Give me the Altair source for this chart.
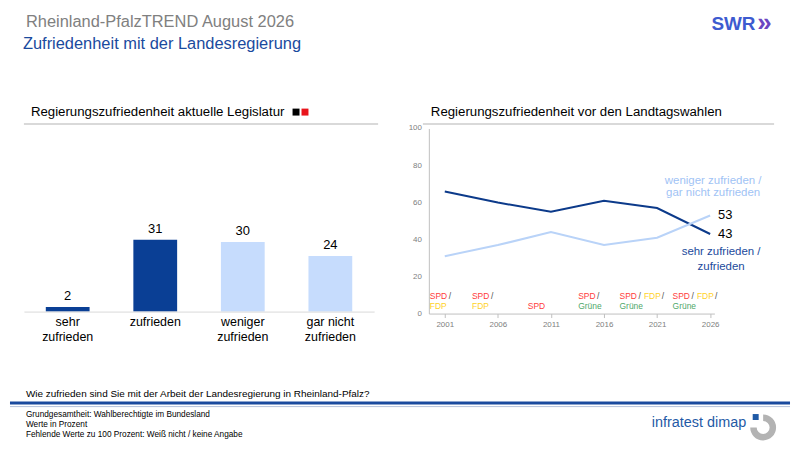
import altair as alt
import pandas as pd

# ================== DATA ==================

ANSWERS = ["sehr zufrieden", "zufrieden", "weniger zufrieden", "gar nicht zufrieden"]
ANSWER_VALUES = [2, 31, 30, 24]
ANSWER_GROUP = ["positiv", "positiv", "negativ", "negativ"]

YEARS = [2001, 2006, 2011, 2016, 2021, 2026]
Y_TICKS = [0, 20, 40, 60, 80, 100]
SERIES = ["sehr zufrieden / zufrieden", "weniger zufrieden / gar nicht zufrieden"]
SATISFIED = [66, 60, 55, 61, 57, 43]
DISSATISFIED = [31, 37, 44, 37, 41, 53]
COALITIONS = [
    ["SPD", "FDP"],
    ["SPD", "FDP"],
    ["SPD"],
    ["SPD", "Grüne"],
    ["SPD", "FDP", "Grüne"],
    ["SPD", "FDP", "Grüne"],
]

FOOTNOTES = [
    "Grundgesamtheit: Wahlberechtigte im Bundesland",
    "Werte in Prozent",
    "Fehlende Werte zu 100 Prozent: Weiß nicht / keine Angabe",
]

# ================== STYLES ==================

FONT = "Liberation Sans"
DARK = "#0a3f95"
LIGHT = "#c6dcfd"
LINE_DARK = "#0c3a8a"
LINE_LIGHT = "#b9d3f8"
GRAY = "#808080"
AXIS_GRAY = "#bfbfbf"
BLUE_TEXT = "#1a4a9e"
PARTY_COLORS = {"SPD": "#ff3b3b", "FDP": "#ffd21f", "Grüne": "#4fa86a", "/": "#505050"}

# the bar chart's plot area sits at this page position; decoration is placed
# in page pixels and shifted into the bar chart's frame
ORIGIN_X, ORIGIN_Y = 22, 125

ONE = pd.DataFrame({"k": [0]})


def px(x):
    return x - ORIGIN_X


def py(y):
    return y - ORIGIN_Y


def text(t, x, y, size, color="black", weight="normal", align="left", baseline="middle"):
    return (
        alt.Chart(ONE)
        .mark_text(text=t, align=align, baseline=baseline, fontSize=size, color=color,
                   fontWeight=weight, font=FONT)
        .encode(x=alt.value(px(x)), y=alt.value(py(y)))
    )


def hline(x1, x2, y, color, width):
    return (
        alt.Chart(ONE)
        .mark_rule(color=color, strokeWidth=width)
        .encode(x=alt.value(px(x1)), x2=alt.value(px(x2)), y=alt.value(py(y)))
    )


def square(x, y, size, color):
    return (
        alt.Chart(ONE)
        .mark_square(size=size, color=color, opacity=1)
        .encode(x=alt.value(px(x)), y=alt.value(py(y)))
    )


# ================== HEADER / FOOTER DECORATION ==================

# invisible frame that pins the drawing to the page corner
canvas = (
    alt.Chart(ONE)
    .mark_rect(opacity=0)
    .encode(x=alt.value(px(8)), x2=alt.value(px(792)), y=alt.value(py(8)), y2=alt.value(py(442)))
)

decoration = [
    canvas,
    text("Rheinland-PfalzTREND August 2026", 24, 18, 16.5, color=GRAY),
    text("Zufriedenheit mit der Landesregierung", 21, 40, 16.5, color=BLUE_TEXT),
    text("SWR", 713, 25.5, 19, color="#3d5bd0", weight="bold", baseline="alphabetic"),
    text("»", 759, 26.5, 26, color="#6b46c1", weight="bold", baseline="alphabetic"),
    text("Regierungszufriedenheit aktuelle Legislatur", 29, 108, 13.3),
    square(295.5, 108.5, 49, "black"),
    square(304.5, 108.5, 49, "#e8141b"),
    text("Regierungszufriedenheit vor den Landtagswahlen", 431, 108, 13.3),
    hline(22, 378, 120.5, "#d9d9d9", 2),
    hline(423, 776, 120.5, "#d9d9d9", 2),
    text("Wie zufrieden sind Sie mit der Arbeit der Landesregierung in Rheinland-Pfalz?", 24, 392, 10),
    hline(8, 792, 401, "#1a4a9e", 3),
    hline(8, 792, 404.5, "#b4c2dc", 1),
    text("infratest dimap", 653, 421, 14.5, color="#1f5aa6"),
    alt.Chart(ONE)
    .mark_arc(theta=0.0, theta2=4.71, innerRadius=6.5, outerRadius=13, color="#b3b3b3")
    .encode(x=alt.value(px(765)), y=alt.value(py(425.5))),
    square(757.5, 415, 36, "#1f5aa6"),
]
for i, note in enumerate(FOOTNOTES):
    decoration.append(text(note, 24, 413 + 10 * i, 8.3))

# ================== BAR CHART ==================

bar_df = pd.DataFrame({"answer": ANSWERS, "value": ANSWER_VALUES, "group": ANSWER_GROUP})

label_expr = (
    "lastindexof(datum.label, ' ') < 0 ? datum.label : "
    "[slice(datum.label, 0, lastindexof(datum.label, ' ')), "
    "slice(datum.label, lastindexof(datum.label, ' ') + 1)]"
)

bar_base = alt.Chart(bar_df).encode(
    x=alt.X(
        "answer:N",
        sort=ANSWERS,
        scale=alt.Scale(paddingInner=0.5, paddingOuter=0.25),
        axis=alt.Axis(title=None, labelAngle=0, ticks=False, domainColor="#d9d9d9",
                      labelFontSize=12.5, labelColor="black", labelPadding=4,
                      labelBaseline="top", labelLineHeight=15, labelExpr=label_expr,
                      labelFont=FONT, zindex=1),
    ),
    y=alt.Y("value:Q", scale=alt.Scale(domain=[0, 79]), axis=None),
)

bars = bar_base.mark_bar().encode(
    color=alt.Color("group:N", scale=alt.Scale(domain=["positiv", "negativ"], range=[DARK, LIGHT]),
                    legend=None)
)
bar_labels = bar_base.mark_text(dy=-11, fontSize=13, font=FONT, color="black").encode(text="value:Q")

left_panel = alt.layer(*decoration, bars, bar_labels).properties(width=352, height=184)

# ================== LINE CHART ==================

X_MIN, X_MAX = 1999.5, 2026.4
LINE_W, LINE_H = 287, 186
PPY = LINE_W / (X_MAX - X_MIN)
PPV = LINE_H / 100

line_df = pd.DataFrame({
    "year": YEARS * 2,
    "value": SATISFIED + DISSATISFIED,
    "series": [SERIES[0]] * len(YEARS) + [SERIES[1]] * len(YEARS),
    "color": [LINE_DARK] * len(YEARS) + [LINE_LIGHT] * len(YEARS),
})

x_line = alt.X(
    "year:Q",
    scale=alt.Scale(domain=[X_MIN, X_MAX], nice=False, zero=False),
    axis=alt.Axis(values=YEARS, format="d", title=None, grid=False, labelColor=GRAY,
                  labelFontSize=8, tickColor=AXIS_GRAY, tickSize=4, domainColor=AXIS_GRAY,
                  labelPadding=3, labelFont=FONT, labelOverlap=False),
)
y_line = alt.Y(
    "value:Q",
    scale=alt.Scale(domain=[0, 100]),
    axis=alt.Axis(values=Y_TICKS, title=None, grid=False, ticks=False, labels=False,
                  domainColor=AXIS_GRAY),
)

lines = alt.Chart(line_df).mark_line(strokeWidth=2).encode(
    x=x_line, y=y_line, color=alt.Color("color:N", scale=None), detail="series:N"
)

# y tick labels, drawn as text so that none is dropped
y_labels = alt.Chart(pd.DataFrame({"year": [X_MIN] * len(Y_TICKS), "value": Y_TICKS})).mark_text(
    align="right", baseline="middle", dx=-7, fontSize=8, font=FONT, color=GRAY
).encode(x="year:Q", y="value:Q", text="value:Q")

end_df = line_df[line_df["year"] == YEARS[-1]]
end_labels = alt.Chart(end_df).mark_text(align="left", dx=8, fontSize=13, font=FONT, color="black").encode(
    x="year:Q", y="value:Q", text="value:Q"
)

# series names next to the line ends
series_layers = []
series_style = [
    (SATISFIED[-1], "#1b4a9c", 11, [18, 33]),
    (DISSATISFIED[-1], "#9fc3f5", 3, [-35, -23]),
]
for name, (end_value, col, dx, dys) in zip(SERIES, series_style):
    parts = name.split(" / ")
    rows = [parts[0] + " /", parts[1]]
    for row, dy in zip(rows, dys):
        series_layers.append(
            alt.Chart(pd.DataFrame({"year": [YEARS[-1]], "value": [end_value]}))
            .mark_text(text=row, align="center", dx=dx, dy=dy, fontSize=11.5, font=FONT, color=col)
            .encode(x="year:Q", y="value:Q")
        )

# coalition labels under the lines
WORD_W = {"SPD": 16.5, "FDP": 15.5, "Grüne": 22.5, "/": 3}
SPACE = 2.5
coal_rows = []
for year, parties in zip(YEARS, COALITIONS):
    if len(parties) == 1:
        rows = [[], parties]
    else:
        first = []
        for p in parties[:-1]:
            first += [p, "/"]
        rows = [first, [parties[-1]]]
    ref = rows[0] if rows[0] else rows[1]
    ref_w = sum(WORD_W[w] for w in ref) + SPACE * (len(ref) - 1)
    start = max((year - X_MIN) * PPY - 15 - ref_w / 2, 1)
    for line_no, words in enumerate(rows):
        pos = start
        for w in words:
            coal_rows.append({
                "year": X_MIN + pos / PPY,
                "value": (18 if line_no == 0 else 8) / PPV,
                "word": w,
                "color": PARTY_COLORS[w],
            })
            pos += WORD_W[w] + SPACE
coal_df = pd.DataFrame(coal_rows)

coalitions = alt.Chart(coal_df).mark_text(align="left", baseline="middle", fontSize=8.5, font=FONT).encode(
    x="year:Q", y="value:Q", text="word:N", color=alt.Color("color:N", scale=None)
)

line_chart = alt.layer(lines, y_labels, end_labels, coalitions, *series_layers).properties(
    width=LINE_W, height=LINE_H
)

spacer = (
    alt.Chart(ONE)
    .mark_point(opacity=0)
    .encode(x=alt.value(0), y=alt.value(0))
    .properties(width=429 - ORIGIN_X - 352, height=10)
)

# ================== COMPOSE ==================

chart = (
    alt.hconcat(left_panel, spacer, line_chart, spacing=0, bounds="flush")
    .properties(padding=0)
    .configure(font=FONT, background="white")
    .configure_view(stroke=None)
)

chart.save("out.html", embed_options={"renderer": "svg", "actions": False})
